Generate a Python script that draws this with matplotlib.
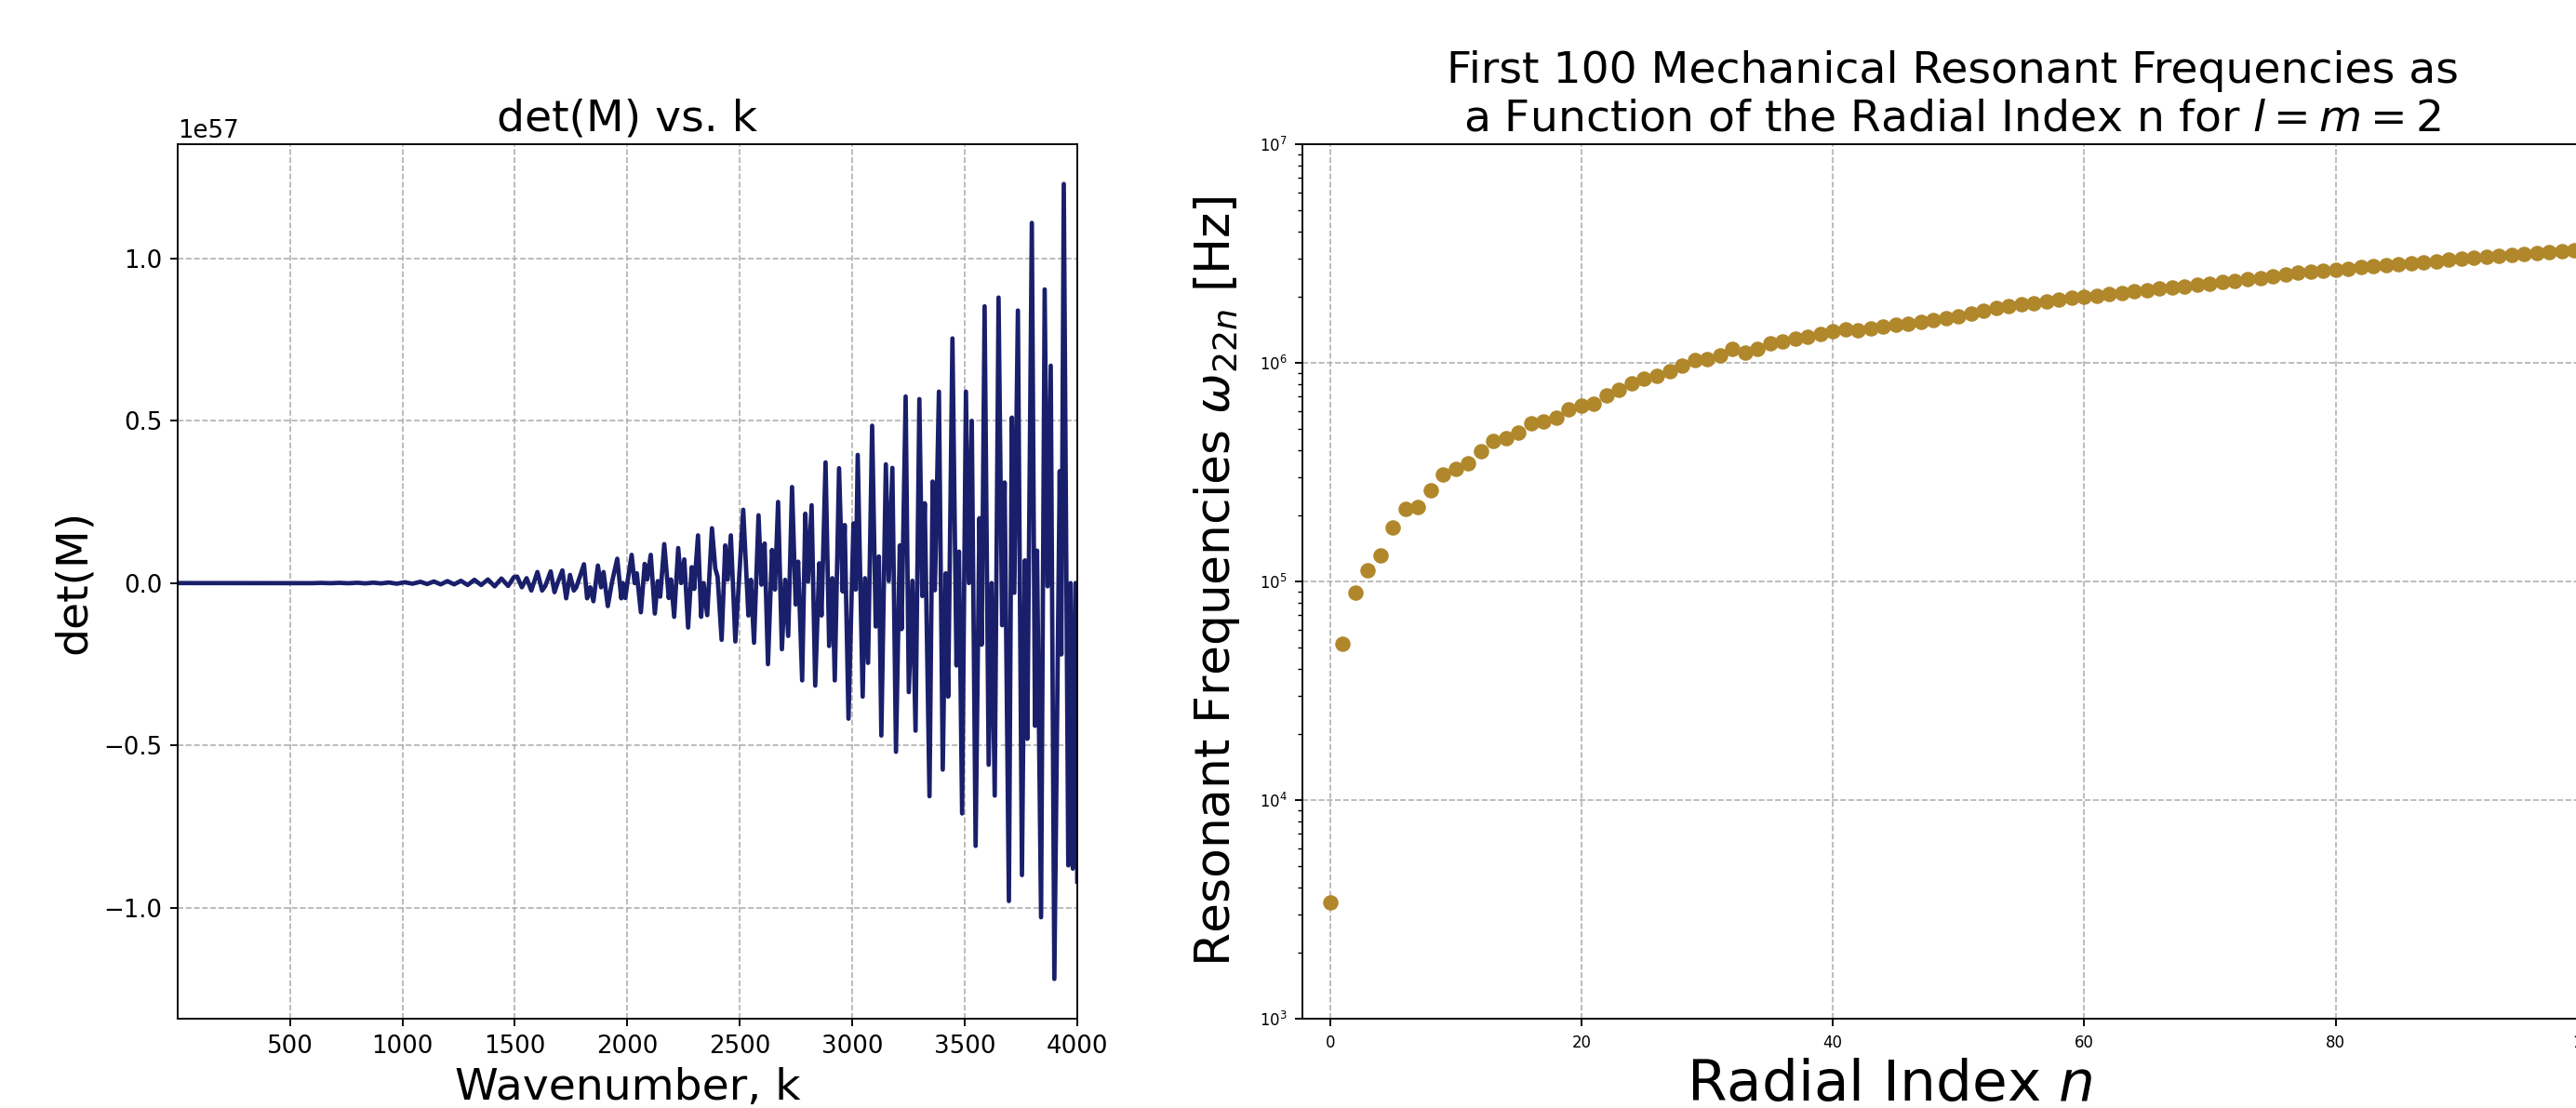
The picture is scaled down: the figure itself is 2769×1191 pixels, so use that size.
import numpy as np
import matplotlib
matplotlib.use("Agg")
import matplotlib.pyplot as plt

# ---- left panel: det(M) against wavenumber k (values in units of 1e57)
k_vals = [1, 150, 300, 450, 500, 560, 600, 640, 680, 720, 760, 800, 835, 870, 905,
          940, 975, 1010, 1045, 1080, 1110, 1140, 1170, 1200, 1230, 1260, 1290, 1320,
          1350, 1380, 1410, 1440, 1470, 1495,
          1510, 1531, 1552, 1573, 1600, 1621, 1635, 1659, 1676, 1690, 1711, 1728, 1745,
          1762, 1773, 1807, 1821, 1835, 1849, 1869, 1883, 1894, 1913, 1931, 1955, 1973,
          1980, 1991, 2001, 2019, 2032, 2042, 2060, 2077, 2088, 2104, 2122, 2135, 2146,
          2164, 2184, 2194, 2208, 2226, 2239, 2253, 2270, 2286, 2297, 2314, 2328, 2339,
          2355, 2376, 2391, 2401, 2419, 2435, 2446, 2460, 2480, 2498, 2515,
          2538, 2549, 2563, 2583, 2596, 2610, 2625, 2643, 2656, 2670, 2687, 2701, 2715,
          2732, 2748, 2759, 2777, 2791, 2803, 2819, 2835, 2853, 2863, 2881, 2897, 2911,
          2922, 2941, 2957, 2966, 2983, 3005,
          3015, 3024, 3046, 3056, 3070, 3088, 3104, 3118, 3129, 3149, 3162, 3178, 3194,
          3211, 3219, 3237, 3251, 3267, 3281, 3298, 3311, 3322, 3343, 3357, 3367, 3385,
          3402, 3415, 3426, 3445, 3463, 3474, 3488, 3505,
          3518, 3531, 3548, 3565, 3575, 3588, 3606, 3619, 3633, 3650, 3666, 3677, 3696,
          3709, 3720, 3736, 3754, 3767, 3778, 3798, 3812, 3821, 3839, 3855, 3868, 3882,
          3898, 3922, 3929, 3940, 3960, 3970, 3980, 3992, 4000]
det_vals = [0, 0, 0, 0.0002, -0.0002, 0.0003, -0.0003, 0.0005, -0.0004, 0.0007, -0.0006,
            0.001, -0.001, 0.0013, -0.001, 0.0017, -0.002, 0.0025, -0.002, 0.004, -0.003,
            0.005, -0.004, 0.006, -0.004, 0.007, -0.006, 0.01, -0.006, 0.011, -0.01,
            0.014, -0.009, 0.018,
            0.020, -0.013, 0.015, -0.023, 0.034, -0.023, -0.009, 0.036, -0.028, 0.001,
            0.039, -0.047, 0.025, -0.023, -0.013, 0.058, -0.047, -0.013, -0.056, 0.054,
            -0.013, 0.034, -0.071, 0.001, 0.075, -0.047,
            0.0, -0.046, 0.006, 0.087, 0.0, 0.03, -0.09, 0.059, 0.011, 0.087, -0.094,
            0.006, -0.042, 0.12, -0.046, 0.011, -0.104, 0.108, 0.0, 0.073, -0.137, 0.049,
            -0.018, 0.147, -0.104, 0.0, -0.099, 0.169, 0.044, 0.02, -0.175, 0.116, 0.011,
            0.147, -0.18, 0.03, 0.226,
            -0.10, 0.01, -0.184, 0.209, -0.005, 0.122, -0.25, 0.102, -0.02, 0.25, -0.204,
            0.01, -0.163, 0.296, -0.066, 0.066, -0.30, 0.214, 0.005, 0.24, -0.316, 0.061,
            -0.10, 0.372, -0.194, 0.015, -0.30, 0.354, -0.026, 0.179, -0.418, 0.184,
            -0.02, 0.395, -0.35, 0.015, -0.246, 0.485, -0.134, 0.082, -0.47, 0.366, 0.007,
            0.355, -0.52, 0.116, -0.142, 0.575, -0.336, 0.007, -0.455, 0.567, -0.04, 0.246,
            -0.657, 0.313, -0.022, 0.59, -0.575, 0.03, -0.35, 0.754, -0.254, 0.097, -0.71,
            0.59,
            0.0, 0.50, -0.81, 0.20, -0.19, 0.853, -0.56, 0.0, -0.655, 0.88, -0.13, 0.31,
            -0.98, 0.51, -0.03, 0.84, -0.90, 0.07, -0.48, 1.11, -0.44, 0.10, -1.03, 0.905,
            -0.01, 0.67, -1.22, 0.345, -0.22, 1.23, -0.87, 0.0, -0.88, 0.0, -0.92]

# ---- right panel: first 100 resonant frequencies (Hz)
n_index = list(range(100))
freqs = [3.42e3, 5.2e4, 8.9e4, 1.13e5, 1.32e5, 1.77e5, 2.15e5, 2.19e5, 2.6e5, 3.1e5,
         3.26e5, 3.48e5, 3.96e5, 4.39e5, 4.5e5, 4.8e5, 5.3e5, 5.4e5, 5.6e5, 6.1e5,
         6.4e5, 6.5e5, 7.1e5, 7.5e5, 8.1e5, 8.5e5, 8.7e5, 9.2e5, 9.7e5, 1.03e6,
         1.04e6, 1.08e6, 1.16e6, 1.11e6, 1.16e6, 1.23e6, 1.25e6, 1.29e6, 1.32e6, 1.35e6,
         1.39e6, 1.42e6, 1.41e6, 1.44e6, 1.46e6, 1.49e6, 1.51e6, 1.54e6, 1.57e6, 1.60e6,
         1.64e6, 1.68e6, 1.73e6, 1.79e6, 1.81e6, 1.85e6, 1.88e6, 1.91e6, 1.94e6, 1.98e6,
         2.00e6, 2.03e6, 2.06e6, 2.09e6, 2.12e6, 2.15e6, 2.18e6, 2.21e6, 2.24e6, 2.28e6,
         2.31e6, 2.34e6, 2.38e6, 2.42e6, 2.45e6, 2.49e6, 2.54e6, 2.59e6, 2.62e6, 2.64e6,
         2.67e6, 2.70e6, 2.74e6, 2.77e6, 2.80e6, 2.82e6, 2.86e6, 2.89e6, 2.92e6, 2.96e6,
         2.99e6, 3.03e6, 3.06e6, 3.09e6, 3.12e6, 3.15e6, 3.18e6, 3.21e6, 3.24e6, 3.27e6]

W, H, DPI = 2769, 1191, 170
fig = plt.figure(figsize=(W / DPI, H / DPI), dpi=DPI)

grid_kw = dict(color="#b0b0b0", linestyle="--", linewidth=0.7)

#==== left
ax1 = fig.add_axes([191 / W, 96 / H, 967 / W, 940 / H])
ax1.plot(k_vals, np.array(det_vals) * 1e57, color="#1a1f6b", linewidth=2.0)
ax1.set_xlim(1, 4000)
ax1.set_title("det(M) vs. k", fontsize=20)
ax1.set_xlabel("Wavenumber, k", fontsize=20)
ax1.set_ylabel("det(M)", fontsize=20)
ax1.tick_params(labelsize=11)
ax1.yaxis.get_offset_text().set_fontsize(11)
ax1.grid(True, **grid_kw)

#==== right (axes runs past the right edge, like the cropped original)
ax2 = fig.add_axes([1400 / W, 96 / H, 1397 / W, 940 / H])
ax2.plot(n_index, freqs, "o", color="#b0872b", markersize=6)
ax2.set_yscale("log")
ax2.set_ylim(1e3, 1e7)
ax2.set_xlim(-2.2, 101.2)
ax2.set_title("First 100 Mechanical Resonant Frequencies as\n"
              "a Function of the Radial Index n for $l = m = 2$", fontsize=20)
ax2.set_xlabel("Radial Index $n$", fontsize=26)
ax2.xaxis.set_label_coords(0.452, -0.045, transform=ax2.transAxes)
ax2.xaxis.label.set_va("top")
ax2.set_ylabel(r"Resonant Frequencies $\omega_{22n}$ [Hz]", fontsize=22, labelpad=8)
ax2.tick_params(labelsize=7)
ax2.grid(True, which="major", **grid_kw)

fig.savefig("out.png", dpi=DPI)
